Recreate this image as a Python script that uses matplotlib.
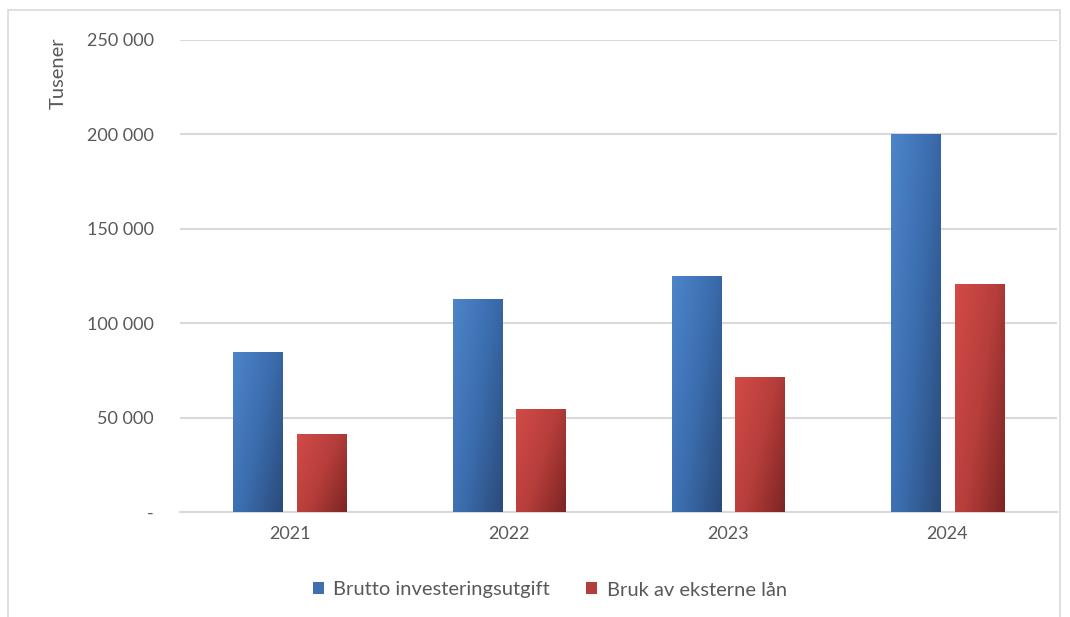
import numpy as np
import matplotlib.pyplot as plt
from matplotlib.colors import LinearSegmentedColormap
from matplotlib.patches import Rectangle

years = ['2021', '2022', '2023', '2024']
brutto = [85000, 113000, 125000, 200000]
eksterne_laan = [41500, 54500, 71500, 121000]
series_names = ['Brutto investeringsutgift', 'Bruk av eksterne lån']

plt.rcParams['font.family'] = ['Lato', 'DejaVu Sans']
text_col = '#595959'

fig = plt.figure(figsize=(10.7, 6.17), dpi=100)
ax = fig.add_axes([180 / 1070, 1 - 512 / 617, 877 / 1070, 472 / 617])

# ramme rundt hele diagrammet
fig.patches.append(Rectangle((8 / 1070, -0.01), 1052 / 1070, 1 - 10 / 617 + 0.01,
                             transform=fig.transFigure, fill=False,
                             edgecolor='#d9d9d9', linewidth=1.2))

x = np.arange(len(years))
w = 0.224
off = 0.145

blue_cmap = LinearSegmentedColormap.from_list('b', ['#4d85ca', '#3b6dae', '#2a4b7a'])
red_cmap = LinearSegmentedColormap.from_list('r', ['#d24b48', '#b73e3b', '#7c2523'])

bars1 = ax.bar(x - off, brutto, w, color='#3e70b0', zorder=3, label=series_names[0])
bars2 = ax.bar(x + off, eksterne_laan, w, color='#b33d3a', zorder=3, label=series_names[1])

# diagonal gradient: lys oppe til venstre, mørk nede til høyre
gx, gy = np.meshgrid(np.linspace(0, 1, 64), np.linspace(0, 1, 128))
grad = 0.6 * gx + 0.4 * gy  # rad 0 er toppen
for bars, cmap in [(bars1, blue_cmap), (bars2, red_cmap)]:
    for b in bars:
        x0, y0 = b.get_x(), b.get_y()
        im = ax.imshow(grad, cmap=cmap, aspect='auto', zorder=4, vmin=0, vmax=1,
                       extent=[x0, x0 + b.get_width(), y0, y0 + b.get_height()])
        im.set_clip_path(b)

ax.set_xlim(-0.5, 3.5)
ax.set_ylim(0, 250000)

yt = [0, 50000, 100000, 150000, 200000, 250000]
ax.set_yticks(yt)
ax.set_yticklabels(['-' if v == 0 else f'{v:,}'.replace(',', ' ') for v in yt])
ax.set_xticks(x)
ax.set_xticklabels(years)
ax.tick_params(axis='y', length=0, pad=19, labelsize=13, labelcolor=text_col)
ax.tick_params(axis='x', length=0, pad=10, labelsize=13, labelcolor=text_col)

ax.grid(axis='y', color='#d9d9d9', linewidth=1.5, zorder=0)
ax.set_axisbelow(True)
for s in ['top', 'right', 'left']:
    ax.spines[s].set_visible(False)
ax.spines['bottom'].set_color('#d9d9d9')
ax.spines['bottom'].set_linewidth(1.5)

fig.text(58 / 1070, 1 - 73 / 617, 'Tusener', rotation=90, ha='center', va='center',
         fontsize=14.5, color=text_col)

leg = fig.legend(handles=[bars1, bars2], labels=series_names, loc='center',
                 bbox_to_anchor=(0.514, 1 - 590 / 617), ncol=2, frameon=False,
                 fontsize=14.5, handlelength=0.55, handleheight=0.55, handletextpad=0.45,
                 columnspacing=1.8, labelcolor=text_col)

fig.savefig('out.png', dpi=100)
